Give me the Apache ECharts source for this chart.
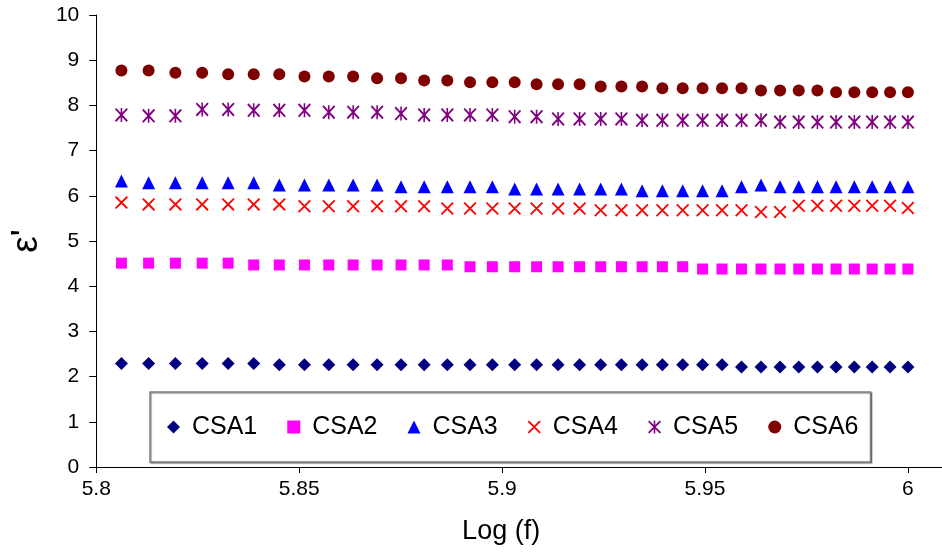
<!DOCTYPE html>
<html>
<head>
<meta charset="utf-8">
<script src="https://cdn.jsdelivr.net/npm/echarts@6/dist/echarts.min.js"></script>
<style>
  html, body { margin: 0; padding: 0; background: #fff; }
  #chart { width: 942px; height: 553px; }
</style>
</head>
<body>
<div id="chart"></div>
<script>
// x values: Log (f)
const logF = [5.8062, 5.8129, 5.8195, 5.8261, 5.8325, 5.8388, 5.8451, 5.8513, 5.8573, 5.8633,
              5.8692, 5.8751, 5.8808, 5.8865, 5.8921, 5.8976, 5.9031, 5.9085, 5.9138, 5.9191,
              5.9243, 5.9294, 5.9345, 5.9395, 5.9445, 5.9494, 5.9542, 5.9590, 5.9638, 5.9685,
              5.9731, 5.9777, 5.9823, 5.9868, 5.9912, 5.9956, 6.0000];

const CSA1 = [2.29, 2.29, 2.29, 2.29, 2.29, 2.29, 2.26, 2.26, 2.26, 2.26,
              2.26, 2.26, 2.26, 2.26, 2.26, 2.26, 2.26, 2.26, 2.26, 2.26,
              2.26, 2.26, 2.26, 2.26, 2.26, 2.26, 2.26, 2.21, 2.21, 2.21,
              2.21, 2.21, 2.21, 2.21, 2.21, 2.21, 2.21];
const CSA2 = [4.51, 4.51, 4.51, 4.51, 4.51, 4.47, 4.47, 4.47, 4.47, 4.47,
              4.47, 4.47, 4.47, 4.47, 4.43, 4.43, 4.43, 4.43, 4.43, 4.43,
              4.43, 4.43, 4.43, 4.43, 4.43, 4.38, 4.38, 4.38, 4.38, 4.38,
              4.38, 4.38, 4.38, 4.38, 4.38, 4.38, 4.38];
const CSA3 = [6.33, 6.29, 6.29, 6.29, 6.29, 6.29, 6.24, 6.24, 6.24, 6.24,
              6.24, 6.20, 6.20, 6.20, 6.20, 6.20, 6.15, 6.15, 6.15, 6.15,
              6.15, 6.15, 6.11, 6.11, 6.11, 6.11, 6.11, 6.20, 6.24, 6.20,
              6.20, 6.20, 6.20, 6.20, 6.20, 6.20, 6.20];
const CSA4 = [5.85, 5.81, 5.81, 5.81, 5.81, 5.81, 5.81, 5.77, 5.77, 5.77,
              5.77, 5.77, 5.77, 5.72, 5.72, 5.72, 5.72, 5.72, 5.72, 5.72,
              5.68, 5.68, 5.68, 5.68, 5.68, 5.68, 5.68, 5.68, 5.64, 5.64,
              5.78, 5.78, 5.78, 5.78, 5.78, 5.78, 5.73];
const CSA5 = [7.79, 7.77, 7.77, 7.91, 7.91, 7.89, 7.89, 7.89, 7.85, 7.85,
              7.85, 7.82, 7.79, 7.79, 7.79, 7.79, 7.75, 7.75, 7.70, 7.70,
              7.70, 7.70, 7.67, 7.67, 7.67, 7.67, 7.67, 7.67, 7.67, 7.63,
              7.63, 7.63, 7.63, 7.63, 7.63, 7.63, 7.63];
const CSA6 = [8.77, 8.77, 8.72, 8.72, 8.69, 8.69, 8.69, 8.64, 8.64, 8.64,
              8.60, 8.60, 8.55, 8.55, 8.51, 8.51, 8.51, 8.47, 8.47, 8.47,
              8.42, 8.42, 8.42, 8.38, 8.38, 8.38, 8.38, 8.38, 8.33, 8.33,
              8.33, 8.33, 8.29, 8.29, 8.29, 8.29, 8.29];

const seriesNames = ['CSA1', 'CSA2', 'CSA3', 'CSA4', 'CSA5', 'CSA6'];
const xTicks = [5.8, 5.85, 5.9, 5.95, 6];
const xTickLabels = ['5.8', '5.85', '5.9', '5.95', '6'];
const yTickLabels = ['0', '1', '2', '3', '4', '5', '6', '7', '8', '9', '10'];

const FONT = '"Liberation Sans", Arial, sans-serif';
const allValues = [CSA1, CSA2, CSA3, CSA4, CSA5, CSA6];
const styles = [
  { symbol: 'diamond', size: 13, color: '#000080' },
  { symbol: 'rect', size: 11, color: '#FF00FF' },
  { symbol: 'triangle', size: 13, color: '#0000FF' },
  { symbol: 'path://M0,1L1,0L10,9L9,10Z M9,0L10,1L1,10L0,9Z', size: 13, color: '#FF0000' },
  { symbol: 'path://M0,1L1,0L10,9L9,10Z M9,0L10,1L1,10L0,9Z M4.4,0L5.6,0L5.6,10L4.4,10Z', size: [13, 14], color: '#800080' },
  { symbol: 'circle', size: 12, color: '#800000' }
];

const series = seriesNames.map((name, k) => ({
  name: name,
  type: 'scatter',
  symbol: styles[k].symbol,
  symbolSize: styles[k].size,
  itemStyle: { color: styles[k].color, opacity: 1 },
  data: logF.map((x, i) => [x, allValues[k][i]]),
  z: 2
}));

const chart = echarts.init(document.getElementById('chart'), null, { renderer: 'canvas' });
chart.setOption({
  backgroundColor: '#ffffff',
  animation: false,
  textStyle: { fontFamily: FONT },
  grid: { left: 95, right: 0, top: 15, bottom: 86, containLabel: false },
  xAxis: {
    type: 'value',
    min: 5.8,
    max: 6.0084,
    name: 'Log (f)',
    nameLocation: 'middle',
    nameGap: 51,
    nameTextStyle: { fontFamily: FONT, fontSize: 27, color: '#000', padding: [0, 36, 0, 0] },
    axisLine: { show: true, onZero: false, lineStyle: { color: '#000', width: 1 } },
    axisTick: { show: true, inside: false, length: 6, lineStyle: { color: '#000' }, customValues: xTicks },
    axisLabel: {
      show: true, fontFamily: FONT, fontSize: 21, color: '#000', margin: 12,
      customValues: xTicks,
      formatter: (v) => {
        const idx = xTicks.findIndex(t => Math.abs(t - v) < 1e-6);
        return idx >= 0 ? xTickLabels[idx] : '';
      }
    },
    splitLine: { show: false }
  },
  yAxis: {
    type: 'value',
    min: 0,
    max: 10,
    interval: 1,
    name: "ε'",
    nameLocation: 'middle',
    nameRotate: 90,
    nameGap: 46,
    nameTextStyle: { fontFamily: FONT, fontSize: 37, color: '#000' },
    axisLine: { show: true, lineStyle: { color: '#000', width: 1 } },
    axisTick: { show: true, inside: false, length: 7, lineStyle: { color: '#000' } },
    axisLabel: {
      fontFamily: FONT, fontSize: 21, color: '#000', margin: 17,
      formatter: (v) => yTickLabels[Math.round(v)]
    },
    splitLine: { show: false }
  },
  legend: {
    data: seriesNames,
    orient: 'horizontal',
    left: 150,
    top: 392,
    padding: [20, 12, 20, 17],
    itemWidth: 13,
    itemHeight: 13,
    itemGap: 30,
    formatter: (n) => ' ' + n,
    textStyle: { fontFamily: FONT, fontSize: 25, color: '#000', lineHeight: 30 },
    borderColor: '#7f7f7f',
    borderWidth: 1.5,
    backgroundColor: '#ffffff',
    shadowColor: 'rgba(0,0,0,0.4)',
    shadowOffsetX: 1,
    shadowOffsetY: 1,
    shadowBlur: 1
  },
  series: series
});
</script>
</body>
</html>
